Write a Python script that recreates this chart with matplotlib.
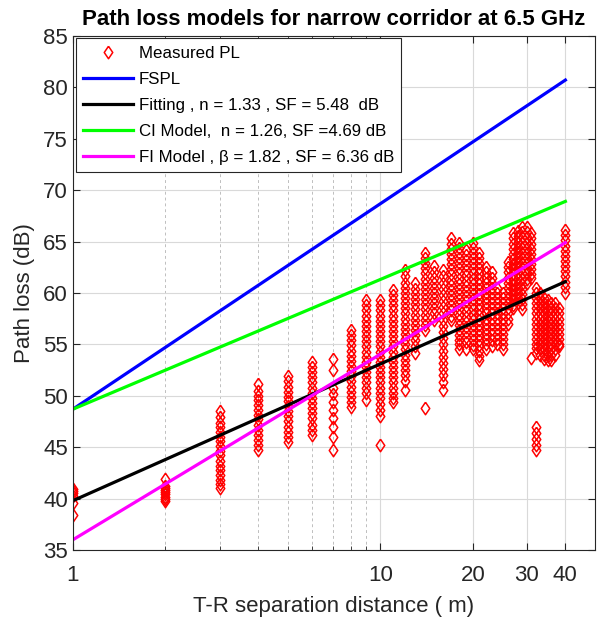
import numpy as np
import matplotlib
matplotlib.use('Agg')
import matplotlib.pyplot as plt
from matplotlib.ticker import FixedLocator, NullFormatter

plt.rcParams['font.family'] = ['Liberation Sans', 'DejaVu Sans']

# measured path loss (dB), one column per T-R distance (m)
d_meas = [1, 2, 3, 4, 5, 6, 7, 8, 9, 10, 11, 12, 13, 14, 15, 16, 17, 18, 19,
          20, 21, 22, 23, 24, 25, 26, 27, 28, 29, 30, 31, 32, 33, 34, 35,
          36, 37, 38, 40]
pl_meas = [
    [40.9, 40.7, 40.5, 40.3, 39.6, 38.4],
    [41.9, 41.2, 41.0, 40.8, 40.6, 40.4, 40.2, 40.0, 39.8],
    [48.5, 47.9, 47.4, 47.0, 46.5, 46.0, 45.6, 45.1, 44.6, 44.2, 43.7, 43.2,
     42.8, 42.3, 41.8, 41.4, 41.0],
    [51.1, 50.5, 50.0, 49.6, 49.1, 48.6, 48.1, 47.7, 47.2, 46.7, 46.2, 45.7,
     45.2, 44.7],
    [51.9, 51.4, 50.9, 50.4, 49.9, 49.5, 49.0, 48.5, 48.0, 47.5, 47.0, 46.5,
     46.0, 45.5],
    [53.3, 52.8, 52.3, 51.8, 51.3, 50.8, 50.3, 49.8, 49.3, 48.8, 48.3, 47.8,
     47.2, 46.7, 46.2],
    [53.6, 52.5, 50.8, 50.2, 49.4, 48.6, 47.8, 47.0, 46.0, 44.7],
    [56.4, 55.9, 55.4, 54.9, 54.4, 53.9, 53.4, 52.9, 52.4, 51.9, 51.4, 50.9,
     50.4, 49.9, 49.4, 48.9],
    [59.3, 58.8, 58.3, 57.8, 57.3, 56.8, 56.3, 55.8, 55.3, 54.8, 54.3, 53.8,
     53.3, 52.8, 52.3, 51.8, 51.3, 50.8, 50.3, 49.6],
    [59.3, 58.8, 58.3, 57.8, 57.3, 56.8, 56.3, 55.8, 55.3, 54.8, 54.3, 53.8,
     53.3, 52.8, 52.3, 51.8, 51.3, 50.8, 50.3, 49.8, 49.2, 48.6, 48.0, 45.2],
    [60.3, 59.8, 59.3, 58.8, 58.3, 57.8, 57.3, 56.8, 56.3, 55.8, 55.3, 54.8,
     54.3, 53.8, 53.3, 52.8, 52.3, 51.8, 51.3, 50.8, 50.3, 49.8, 49.4],
    [62.2, 61.6, 61.0, 60.5, 60.0, 59.5, 59.0, 58.5, 58.0, 57.5, 57.0, 56.5,
     56.0, 55.5, 55.0, 54.5, 54.0, 53.5, 53.0, 52.5, 52.0, 51.4, 50.6],
    [61.0, 60.4, 59.9, 59.4, 58.9, 58.4, 57.9, 57.4, 56.9, 56.4, 55.9, 55.4,
     54.8, 54.2],
    [63.9, 63.4, 62.9, 62.4, 61.9, 61.4, 60.9, 60.4, 59.9, 59.4, 58.9, 58.4,
     57.9, 57.4, 56.9, 56.4, 48.8],
    [62.6, 62.0, 61.5, 61.0, 60.5, 60.0, 59.5, 59.0, 58.5, 58.0, 57.4],
    [62.2, 61.6, 61.0, 60.4, 59.8, 59.2, 58.6, 58.0, 57.4, 56.8, 56.2, 55.6,
     55.0, 54.4, 53.8, 53.2, 52.6, 52.0, 51.3, 50.6],
    [65.3, 64.8, 64.3, 63.8, 63.3, 62.8, 62.3, 61.8, 61.3, 60.8, 60.3, 59.8,
     59.3, 58.8, 58.3, 57.8, 57.4],
    [64.9, 64.4, 63.9, 63.4, 62.9, 62.4, 61.9, 61.4, 60.9, 60.4, 59.9, 59.4,
     58.9, 58.4, 57.9, 57.4, 56.9, 56.4, 55.9, 55.4, 55.0, 54.5],
    [64.2, 63.7, 63.2, 62.7, 62.2, 61.7, 61.2, 60.7, 60.2, 59.7, 59.2, 58.7,
     58.2, 57.7, 57.2, 56.7, 56.2, 55.7, 55.2, 54.5],
    [64.9, 64.4, 63.9, 63.4, 62.9, 62.4, 61.9, 61.4, 60.9, 60.4, 59.9, 59.4,
     58.9, 58.4, 57.9, 57.4, 56.9, 56.4, 55.9, 55.4, 54.9, 54.5],
    [63.9, 63.4, 62.9, 62.4, 61.9, 61.4, 60.9, 60.4, 59.9, 59.4, 58.9, 58.4,
     57.9, 57.4, 56.9, 56.4, 55.9, 55.4, 54.9, 54.4, 53.9, 53.5],
    [62.5, 62.0, 61.5, 61.0, 60.5, 60.0, 59.5, 59.0, 58.5, 58.0, 57.5, 57.0,
     56.5, 56.0, 55.5, 55.0, 54.5],
    [62.0, 61.5, 61.0, 60.5, 60.0, 59.5, 59.0, 58.5, 58.0, 57.5, 57.0, 56.5,
     56.0, 55.4, 54.8],
    [60.5, 60.0, 59.5, 59.0, 58.5, 58.0, 57.5, 57.0, 56.5, 56.0, 55.5, 55.0],
    [60.0, 59.5, 59.0, 58.5, 58.0, 57.5, 57.0, 56.5, 56.0, 55.5, 55.0, 54.5],
    [63.0, 62.5, 62.0, 61.5, 61.0, 60.5, 60.0, 59.5, 59.0, 58.5, 58.0, 57.5,
     57.0],
    [65.8, 65.3, 64.8, 64.3, 63.8, 63.3, 62.8, 62.3, 61.8, 61.3, 60.8, 60.3,
     59.8, 59.3, 58.8, 58.5],
    [66.0, 65.5, 65.0, 64.5, 64.0, 63.5, 63.0, 62.5, 62.0, 61.5, 61.0, 60.5,
     60.0, 59.5, 59.0],
    [66.4, 65.9, 65.4, 64.9, 64.4, 63.9, 63.4, 62.9, 62.4, 61.9, 61.4, 60.9,
     60.4, 59.9, 59.4, 58.9, 58.4],
    [66.4, 65.9, 65.4, 64.9, 64.4, 63.9, 63.4, 62.9, 62.4, 61.9, 61.4, 61.0],
    [65.8, 65.3, 64.8, 64.3, 63.8, 63.3, 62.8, 62.3, 61.8, 61.5, 53.7],
    [60.5, 60.0, 59.5, 59.0, 58.5, 58.0, 57.5, 57.0, 56.5, 56.0, 55.5, 55.0,
     54.6, 54.2, 47.0, 46.4, 45.8, 45.2, 44.7],
    [60.0, 59.5, 59.0, 58.5, 58.0, 57.5, 57.0, 56.5, 56.0, 55.5, 55.0, 54.5,
     54.0],
    [59.5, 59.0, 58.5, 58.0, 57.5, 57.0, 56.5, 56.0, 55.5, 55.0, 54.5, 54.0,
     53.6],
    [59.3, 58.8, 58.3, 57.8, 57.3, 56.8, 56.3, 55.8, 55.3, 54.8, 54.3, 53.9,
     53.5],
    [59.0, 58.5, 58.0, 57.5, 57.0, 56.5, 56.0, 55.5, 55.0, 54.5, 54.0, 53.5],
    [59.0, 58.5, 58.0, 57.5, 57.0, 56.5, 56.0, 55.5, 55.0, 54.5, 54.0],
    [58.5, 58.0, 57.5, 57.0, 56.5, 56.0, 55.5, 55.0, 54.8],
    [66.1, 65.6, 65.1, 64.6, 64.1, 63.6, 63.1, 62.6, 62.1, 61.6, 61.1, 60.6,
     60.0],
]

# model lines, end points at 1 m and 40 m
d_model = [1, 40]
fspl_pl = [48.7, 80.7]
fit_pl = [39.8, 61.1]
ci_pl = [48.7, 68.9]
fi_pl = [36.0, 64.9]

labels = ['Measured PL', 'FSPL', 'Fitting , n = 1.33 , SF = 5.48  dB',
          'CI Model,  n = 1.26, SF =4.69 dB',
          'FI Model , \u03b2 = 1.82 , SF = 6.36 dB']

ax_col = (0.15, 0.15, 0.15)
# MATLAB-style diamond, a bit wider than matplotlib's 'd'
diamond = [(0, 1), (0.68, 0), (0, -1), (-0.68, 0), (0, 1)]

fig = plt.figure(figsize=(6.03, 6.18), dpi=100)
ax = fig.add_axes([0.121, 0.110, 0.866, 0.832])

xs = np.concatenate([[d] * len(v) for d, v in zip(d_meas, pl_meas)])
ys = np.concatenate(pl_meas)
ax.plot(xs, ys, linestyle='none', marker=diamond, color='red',
        markerfacecolor='none', markersize=9, markeredgewidth=1.1,
        label=labels[0])

ax.plot(d_model, fspl_pl, color='blue', lw=2.3, label=labels[1])
ax.plot(d_model, fit_pl, color='black', lw=2.3, label=labels[2])
ax.plot(d_model, ci_pl, color=(0, 1, 0), lw=2.3, label=labels[3])
ax.plot(d_model, fi_pl, color=(1, 0, 1), lw=2.3, label=labels[4])

ax.set_xscale('log')
ax.set_xlim(1, 50)
ax.set_ylim(35, 85)
ax.xaxis.set_major_locator(FixedLocator([1, 10, 20, 30, 40]))
ax.xaxis.set_minor_locator(FixedLocator([2, 3, 4, 5, 6, 7, 8, 9, 50]))
ax.xaxis.set_minor_formatter(NullFormatter())
ax.set_xticklabels(['1', '10', '20', '30', '40'])
ax.set_yticks(np.arange(35, 86, 5))

ax.grid(True, which='major', color=(0.85, 0.85, 0.85), lw=0.8)
ax.grid(True, which='minor', axis='x', color=(0.75, 0.75, 0.75), lw=0.7,
        ls=(0, (3, 3)))
ax.set_axisbelow(True)

ax.tick_params(which='both', direction='in', top=True, right=True,
               colors=ax_col, labelsize=16)
ax.tick_params(which='major', length=5)
ax.tick_params(which='minor', length=3)
ax.tick_params(axis='x', pad=11)
for sp in ax.spines.values():
    sp.set_color(ax_col)
    sp.set_linewidth(0.8)

ax.set_title('Path loss models for narrow corridor at 6.5 GHz',
             fontsize=16, fontweight='bold', pad=8)
ax.set_xlabel('T-R separation distance ( m)', fontsize=16, color=ax_col,
              labelpad=7)
ax.set_ylabel('Path loss (dB)', fontsize=16, color=ax_col, labelpad=6)

leg = ax.legend(loc='upper left', fontsize=12.2, numpoints=1,
                handlelength=3.0, handletextpad=0.3, labelspacing=0.66,
                borderaxespad=0.15, borderpad=0.42, fancybox=False,
                framealpha=1, edgecolor=ax_col)
leg.get_frame().set_linewidth(0.8)

fig.savefig('out.png', dpi=100)
